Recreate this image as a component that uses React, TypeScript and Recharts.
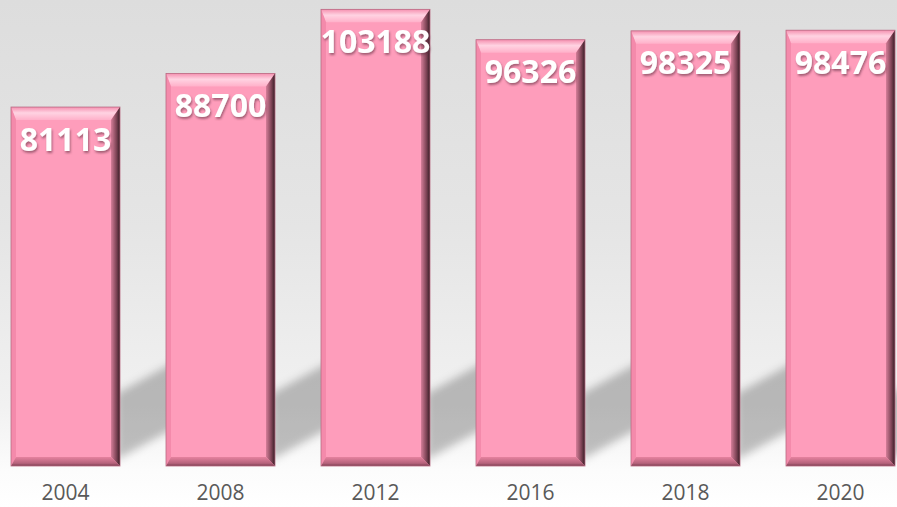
import React from "react"
import { BarChart, Bar, XAxis, YAxis, LabelList } from "recharts"

const years = ["2004", "2008", "2012", "2016", "2018", "2020"]
const counts = [81113, 88700, 103188, 96326, 98325, 98476]

const data = years.map((year, i) => ({ year, count: counts[i] }))

const PINK = "#fe9dbb"

function BevelBar(props: any) {
  const { x, y, width: w, height: h } = props
  if (!h || h <= 0) return null
  const base = y + h
  const t = 13
  const r = 9
  const b = 9
  const l = 5
  return (
    <g>
      <polygon
        points={`${x + w - 4},${base - 6} ${x + w + 80},${base - 52} ${x + w + 80},${base - 118} ${x + w - 4},${base - 72}`}
        fill="#000"
        fillOpacity={0.24}
        filter="url(#shadowBlur)"
      />
      <rect x={x} y={y} width={w} height={h} fill={PINK} />
      <polygon points={`${x},${y} ${x + w},${y} ${x + w - r},${y + t} ${x + l},${y + t}`} fill="url(#topBevel)" />
      <polygon points={`${x},${y} ${x + l},${y + t} ${x + l},${base - b} ${x},${base}`} fill="#f48aab" />
      <polygon points={`${x + w},${y} ${x + w},${base} ${x + w - r},${base - b} ${x + w - r},${y + t}`} fill="url(#rightBevel)" />
      <polygon points={`${x},${base} ${x + w},${base} ${x + w - r},${base - b} ${x + l},${base - b}`} fill="url(#bottomBevel)" />
      <rect x={x} y={y} width={w} height={h} fill="none" stroke="#b86a83" strokeWidth={0.8} />
    </g>
  )
}

function ValueLabel(props: any) {
  const { x, y, width, value } = props
  return (
    <text
      x={x + width / 2}
      y={y + 31}
      textAnchor="middle"
      dominantBaseline="central"
      fill="#ffffff"
      fontFamily="'Open Sans', sans-serif"
      fontWeight={700}
      fontSize={32}
      filter="url(#textShadow)"
    >
      {value}
    </text>
  )
}

export default function App() {
  return (
    <div
      style={{
        position: "absolute",
        left: 0,
        top: 0,
        width: 897,
        height: 507,
        overflow: "hidden",
        background: "linear-gradient(to bottom, #dddddd 0%, #e5e5e5 45%, #f1f1f1 80%, #fcfcfc 93%, #ffffff 100%)",
      }}
    >
      <div style={{ position: "absolute", left: -12, top: 0 }}>
        <BarChart width={930} height={507} data={data} margin={{ top: 0, right: 0, bottom: 0, left: 0 }}>
          <defs>
            <filter id="shadowBlur" x="-50%" y="-50%" width="200%" height="200%">
              <feGaussianBlur stdDeviation={4} />
            </filter>
            <filter id="textShadow" x="-20%" y="-20%" width="140%" height="160%">
              <feDropShadow dx={1} dy={2} stdDeviation={1.2} floodColor="#5a2a3a" floodOpacity={0.55} />
            </filter>
            <linearGradient id="topBevel" x1="0" y1="0" x2="0" y2="1">
              <stop offset="0%" stopColor="#f590b0" />
              <stop offset="45%" stopColor="#ffd3e2" />
              <stop offset="100%" stopColor="#ffb0c9" />
            </linearGradient>
            <linearGradient id="rightBevel" x1="0" y1="0" x2="1" y2="0">
              <stop offset="0%" stopColor="#d57e99" />
              <stop offset="60%" stopColor="#7e4456" />
              <stop offset="100%" stopColor="#351c24" />
            </linearGradient>
            <linearGradient id="bottomBevel" x1="0" y1="0" x2="0" y2="1">
              <stop offset="0%" stopColor="#e6829f" />
              <stop offset="70%" stopColor="#b5627b" />
              <stop offset="100%" stopColor="#7a3d50" />
            </linearGradient>
          </defs>
          <XAxis
            dataKey="year"
            height={41}
            axisLine={false}
            tickLine={false}
            tickMargin={13}
            tick={{ fill: "#595959", fontSize: 21, fontFamily: "'Open Sans', sans-serif" }}
          />
          <YAxis hide domain={[0, 105300]} />
          <Bar dataKey="count" barSize={109} shape={<BevelBar />} isAnimationActive={false}>
            <LabelList dataKey="count" content={<ValueLabel />} />
          </Bar>
        </BarChart>
      </div>
    </div>
  )
}
